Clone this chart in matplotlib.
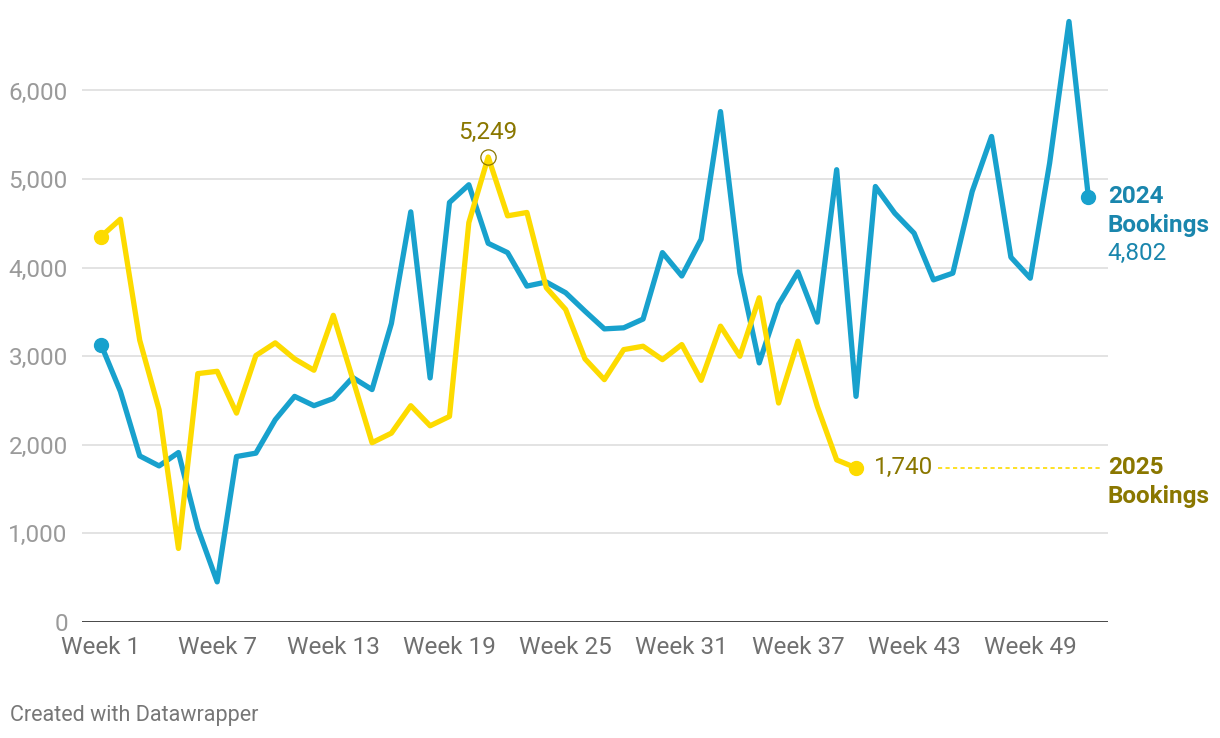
import matplotlib
matplotlib.use("Agg")
import matplotlib.pyplot as plt
from matplotlib.ticker import FuncFormatter

plt.rcParams['font.family'] = ['Roboto', 'DejaVu Sans']

weeks_2024 = list(range(1, 53))
bookings_2024 = [3132, 2604, 1875, 1762, 1913, 1057, 453, 1868, 1906, 2283,
                 2547, 2442, 2523, 2760, 2624, 3370, 4630, 2755, 4736, 4936,
                 4275, 4170, 3792, 3838, 3717, 3509, 3309, 3321, 3420, 4170,
                 3906, 4321, 5762, 3943, 2925, 3585, 3951, 3385, 5106, 2547,
                 4916, 4615, 4389, 3862, 3938, 4860, 5481, 4118, 3881, 5180,
                 6779, 4802]
weeks_2025 = list(range(1, 41))
bookings_2025 = [4351, 4547, 3181, 2396, 830, 2804, 2830, 2358, 3008, 3151,
                 2970, 2842, 3462, 2745, 2024, 2132, 2442, 2215, 2321, 4509,
                 5249, 4585, 4623, 3774, 3528, 2970, 2736, 3075, 3113, 2962,
                 3132, 2728, 3340, 3000, 3660, 2472, 3170, 2434, 1830, 1740]
y_ticks = [0, 1000, 2000, 3000, 4000, 5000, 6000]
x_tick_weeks = [1, 7, 13, 19, 25, 31, 37, 43, 49]
x_tick_labels = [f"Week {w}" for w in x_tick_weeks]

BLUE = "#18a1cd"
YELLOW = "#fddb00"
BLUE_TXT = "#1a86ad"
OLIVE = "#8a7700"
FS = 17.5

W, H = 1220, 738
fig = plt.figure(figsize=(W / 100, H / 100), dpi=100)
left = 81.65 / W
right = 1107.7 / W
bottom = (H - 622) / H
ymax = 7000
top_px = 622 - ymax * (531.5 / 6000)
top = (H - top_px) / H
ax = fig.add_axes([left, bottom, right - left, top - bottom])
ax.set_xlim(0, 53)
ax.set_ylim(0, ymax)

for s in ax.spines.values():
    s.set_visible(False)

for v in y_ticks[1:]:
    ax.axhline(v, color="#e1e1e1", lw=1.3, zorder=0)
ax.axhline(0, color="#111111", lw=1.8, zorder=1)

ax.set_yticks(y_ticks)
ax.yaxis.set_major_formatter(FuncFormatter(lambda v, p: f"{int(v):,}"))
ax.tick_params(axis="y", length=0, pad=10, labelsize=FS, labelcolor="#9a9a9a")
ax.set_xticks(x_tick_weeks)
ax.set_xticklabels(x_tick_labels)
ax.tick_params(axis="x", length=0, pad=10, labelsize=FS, labelcolor="#707070")

ax.plot(weeks_2024, bookings_2024, color=BLUE, lw=3.8, solid_joinstyle="round",
        solid_capstyle="round", zorder=3, clip_on=False)
ax.plot(weeks_2025, bookings_2025, color=YELLOW, lw=3.8, solid_joinstyle="round",
        solid_capstyle="round", zorder=4, clip_on=False)

for wk, vals, c in [(weeks_2024, bookings_2024, BLUE), (weeks_2025, bookings_2025, YELLOW)]:
    ax.plot([wk[0], wk[-1]], [vals[0], vals[-1]], "o", color=c, ms=10,
            zorder=5, clip_on=False)

# peak annotation 2025
pk = max(range(len(bookings_2025)), key=lambda i: bookings_2025[i])
ax.plot(weeks_2025[pk], bookings_2025[pk], "o", mfc="none", mec=OLIVE, ms=11,
        mew=0.9, zorder=6)
ax.annotate(f"{bookings_2025[pk]:,}", (weeks_2025[pk], bookings_2025[pk]),
            xytext=(0, 17.5), textcoords="offset points", ha="center", va="center",
            fontsize=FS, color=OLIVE)

LS = 20.5  # line step in points

# 2024 end label
for i, (txt, wt) in enumerate([("2024", "bold"), ("Bookings", "bold"),
                               (f"{bookings_2024[-1]:,}", "normal")]):
    ax.annotate(txt, (53, bookings_2024[-1]), xytext=(0, -LS * i),
                textcoords="offset points", ha="left", va="center",
                fontsize=FS, fontweight=wt, color=BLUE_TXT,
                annotation_clip=False)

# 2025 end label
ax.annotate(f"{bookings_2025[-1]:,}", (weeks_2025[-1], bookings_2025[-1]),
            xytext=(13, 0), textcoords="offset points", ha="left", va="center",
            fontsize=FS, color=OLIVE)
ax.plot([44.25, 52.63], [bookings_2025[-1]] * 2, color=YELLOW, lw=1.2,
        ls=(0, (2.5, 2)), zorder=2, clip_on=False)
for i, txt in enumerate(["2025", "Bookings"]):
    ax.annotate(txt, (53, bookings_2025[-1]), xytext=(0, -LS * i),
                textcoords="offset points", ha="left", va="center",
                fontsize=FS, fontweight="bold", color=OLIVE,
                annotation_clip=False)

fig.text(10 / W, 1 - 715 / H, "Created with Datawrapper", fontsize=15.5,
         color="#777777", ha="left", va="center")

fig.savefig("out.png", dpi=100)
